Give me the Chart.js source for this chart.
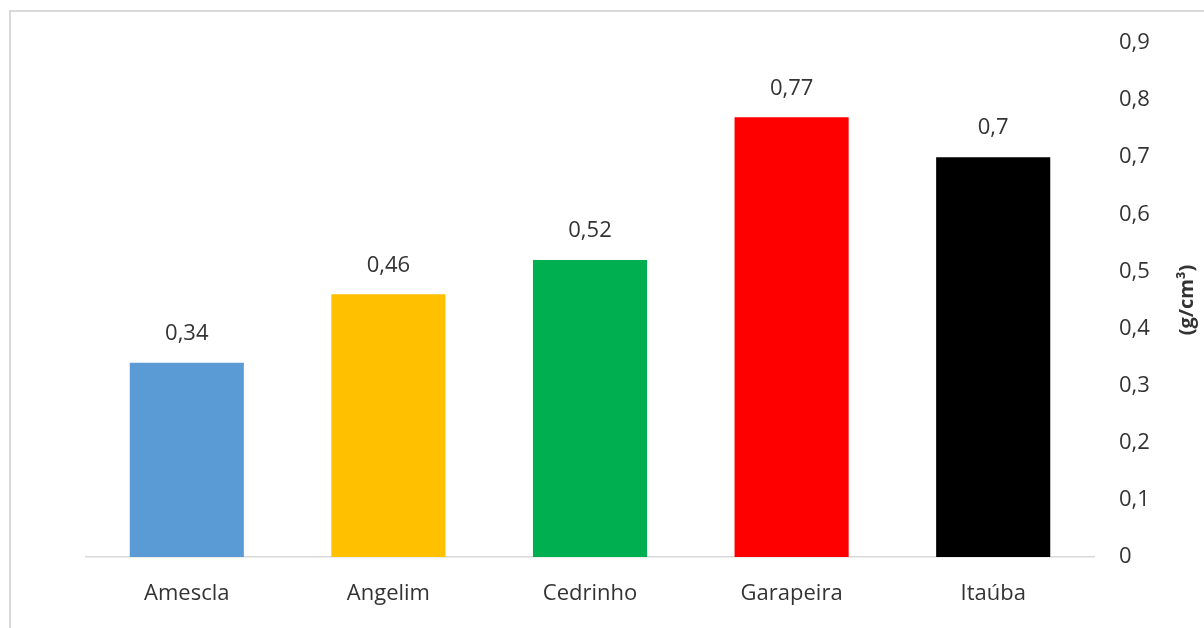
<!DOCTYPE html>
<html><head><meta charset="utf-8">
<script src="https://cdn.jsdelivr.net/npm/chart.js@4"></script>
<style>
html,body{margin:0;padding:0;background:#fff;}
#wrap{position:relative;width:1204px;height:628px;overflow:hidden;}
#frame{position:absolute;left:9px;top:10px;width:1300px;height:700px;border-left:2px solid #d9d9d9;border-top:2px solid #d9d9d9;}
canvas{position:absolute;left:0;top:0;}
</style></head>
<body><div id="wrap"><div id="frame"></div><canvas id="c" width="1204" height="628"></canvas></div>
<script>
const categories = ["Amescla", "Angelim", "Cedrinho", "Garapeira", "Itaúba"];
const values = [0.34, 0.46, 0.52, 0.77, 0.7];
const barColors = ["#5B9BD5", "#FFC000", "#00B050", "#FF0000", "#000000"];
const yTickValues = [0, 0.1, 0.2, 0.3, 0.4, 0.5, 0.6, 0.7, 0.8, 0.9];
const yTitle = "(g/cm³)";
const FONT = "'Open Sans', sans-serif";
const TXT = "#333333";
const fmt = v => String(Math.round(v*100)/100).replace('.', ',');

const labelPlugin = {
  id: 'labels',
  afterDatasetsDraw(chart) {
    const ctx = chart.ctx;
    const meta = chart.getDatasetMeta(0);
    ctx.save();
    ctx.font = "22px " + FONT;
    ctx.fillStyle = TXT;
    ctx.textAlign = "center";
    ctx.textBaseline = "middle";
    meta.data.forEach((bar, i) => {
      ctx.fillText(fmt(values[i]), bar.x, bar.y - 29);
    });
    ctx.translate(1187, (chart.chartArea.top + chart.chartArea.bottom) / 2);
    ctx.rotate(-Math.PI / 2);
    ctx.font = "bold 20px " + FONT;
    ctx.fillText(yTitle, 0, 0);
    ctx.restore();
  }
};

new Chart(document.getElementById('c'), {
  type: 'bar',
  data: {
    labels: categories,
    datasets: [{ data: values, backgroundColor: barColors, categoryPercentage: 1, barPercentage: 0.566 }]
  },
  options: {
    responsive: false,
    animation: false,
    layout: { padding: { left: 86, top: 43, right: 0, bottom: 0 } },
    plugins: { legend: { display: false }, tooltip: { enabled: false } },
    scales: {
      x: {
        grid: { display: false },
        border: { display: true, color: '#d9d9d9', width: 1.5 },
        ticks: { color: TXT, font: { family: FONT, size: 22 }, padding: 16 },
        afterFit(s) { s.height = 71; }
      },
      y: {
        position: 'right',
        min: 0, max: 0.9,
        grid: { display: false },
        border: { display: false },
        afterBuildTicks(s) { s.ticks = yTickValues.map(v => ({ value: v })); },
        ticks: { color: TXT, font: { family: FONT, size: 22 }, padding: 17, callback: v => fmt(v) },
        afterFit(s) { s.width = 110; }
      }
    }
  },
  plugins: [labelPlugin]
});
</script></body></html>
